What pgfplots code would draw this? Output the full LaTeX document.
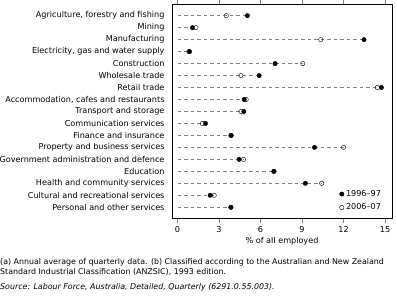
\documentclass[border=0pt]{standalone}
\usepackage{fontspec}
\setmainfont{DejaVu Sans}
\usepackage{pgfplots}
\pgfplotsset{compat=1.18}
\usepackage{pgfplotstable}

% employed persons by industry, % of all employed
% a = 1996-97, b = 2006-07, m = the larger of the two (end of dashed line)
\pgfplotstableread{
y  a     b     m
1  5.05  3.52  5.05
2  1.08  1.33  1.33
3  13.48 10.35 13.48
4  0.87  0.82  0.87
5  7.05  9.05  9.05
6  5.90  4.58  5.90
7  14.73 14.44 14.73
8  4.82  4.96  4.96
9  4.79  4.58  4.79
10 2.02  1.80  2.02
11 3.88  3.85  3.88
12 9.90  12.00 12.00
13 4.45  4.77  4.77
14 6.98  6.95  6.98
15 9.24  10.42 10.42
16 2.36  2.65  2.65
17 3.86  3.85  3.86
}\employ

\begin{document}
\begin{tikzpicture}
\path[use as bounding box] (0,0) rectangle (397pt,302pt);
\begin{axis}[
    at={(172pt,83.7pt)}, anchor=south west,
    scale only axis,
    width=220pt, height=214pt,
    xmin=-0.4, xmax=15.5,
    ymin=0.05, ymax=17.92,
    y dir=reverse,
    xtick={0,3,...,15},
    ytick={1,...,17},
    yticklabels={{Agriculture, forestry and fishing}, Mining, Manufacturing,
        {Electricity, gas and water supply}, Construction, Wholesale trade,
        Retail trade, {Accommodation, cafes and restaurants},
        Transport and storage, Communication services, Finance and insurance,
        Property and business services, Government administration and defence,
        Education, Health and community services,
        Cultural and recreational services, Personal and other services},
    ytick style={draw=none},
    tick align=outside,
    major tick length=5pt,
    xticklabel pos=lower,
    tick label style={font=\fontsize{8.1}{9}\selectfont},
    yticklabel style={xshift=1pt},
    /pgf/number format/assume math mode=true,
    xlabel={\% of all employed},
    xlabel style={font=\fontsize{8.1}{9}\selectfont, yshift=2pt},
    legend style={draw=none, fill=none, at={(axis cs:11.7,15.4)},
        anchor=north west, font=\fontsize{8.1}{9}\selectfont,
        inner sep=0pt, row sep=2pt},
    legend cell align=left,
    reverse legend,
]
\addplot[xcomb, gray, dash pattern=on 3.5pt off 3pt, forget plot]
    table[x=m, y=y] {\employ};
\addplot[only marks, mark=o, mark size=2.2pt, black, mark options={fill=white}]
    table[x=b, y=y] {\employ};
\addplot[only marks, mark=*, mark size=2.2pt, black]
    table[x=a, y=y] {\employ};
\legend{2006--07, 1996--97}
\end{axis}
\node[anchor=west, font=\fontsize{7.9}{9}\selectfont, inner sep=0pt] at (0pt,40pt)
    {(a) Annual average of quarterly data. (b) Classified according to the Australian and New Zealand};
\node[anchor=west, font=\fontsize{7.9}{9}\selectfont, inner sep=0pt] at (0pt,30.3pt)
    {Standard Industrial Classification (ANZSIC), 1993 edition.};
\node[anchor=west, font=\fontsize{7.9}{9}\itshape, inner sep=0pt] at (0pt,15pt)
    {Source: Labour Force, Australia, Detailed, Quarterly (6291.0.55.003).};
\end{tikzpicture}
\end{document}
